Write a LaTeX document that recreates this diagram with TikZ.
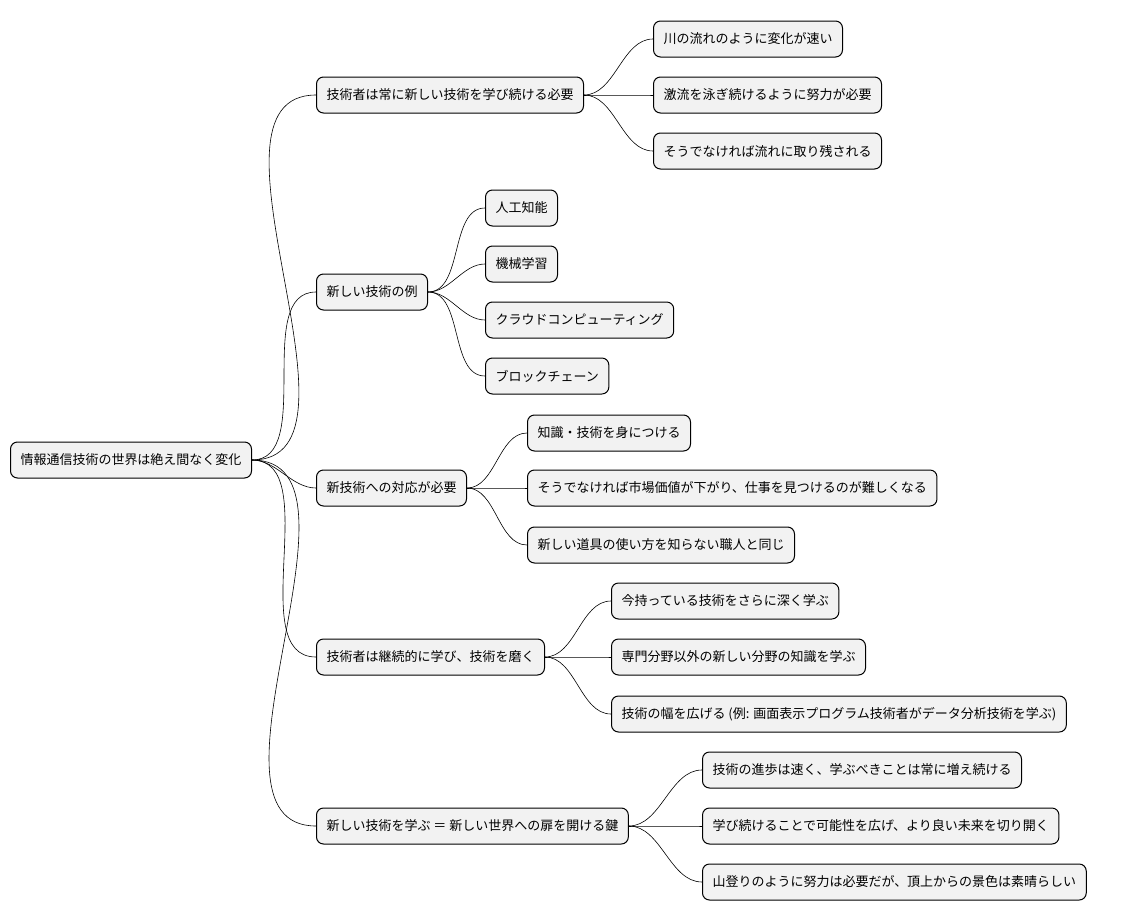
\documentclass[tikz,border=0pt]{standalone}
\usepackage{fontspec}
\setmainfont{Noto Sans CJK JP}
\begin{document}
\begin{tikzpicture}[x=1pt,y=-1pt,
		topic/.style={
			draw,
			line width=1pt,
			fill=gray!10,
			rounded corners=7pt,
			anchor=west,
			minimum height=36pt,
			inner xsep=10pt,
			font=\fontsize{13}{15}\selectfont},
		link/.style={
			line width=0.6pt,
			out=0,
			in=180,
			looseness=0.9}]

	\useasboundingbox (0,0) rectangle (1125,921);

	\node (root) [topic] at (10,460) {情報通信技術の世界は絶え間なく変化};

	\node (need) [topic] at (316,95) {技術者は常に新しい技術を学び続ける必要};
	\node (ex) [topic] at (316,292) {新しい技術の例};
	\node (resp) [topic] at (316,488) {新技術への対応が必要};
	\node (cont) [topic] at (316,657) {技術者は継続的に学び、技術を磨く};
	\node (key) [topic] at (316,826) {新しい技術を学ぶ ＝ 新しい世界への扉を開ける鍵};

	\node (need1) [topic] at (653,39) {川の流れのように変化が速い};
	\node (need2) [topic] at (653,95) {激流を泳ぎ続けるように努力が必要};
	\node (need3) [topic] at (653,151) {そうでなければ流れに取り残される};

	\node (ex1) [topic] at (485,208) {人工知能};
	\node (ex2) [topic] at (485,264) {機械学習};
	\node (ex3) [topic] at (485,320) {クラウドコンピューティング};
	\node (ex4) [topic] at (485,376) {ブロックチェーン};

	\node (resp1) [topic] at (527,433) {知識・技術を身につける};
	\node (resp2) [topic] at (527,488) {そうでなければ市場価値が下がり、仕事を見つけるのが難しくなる};
	\node (resp3) [topic] at (527,545) {新しい道具の使い方を知らない職人と同じ};

	\node (cont1) [topic] at (611,601) {今持っている技術をさらに深く学ぶ};
	\node (cont2) [topic] at (611,657) {専門分野以外の新しい分野の知識を学ぶ};
	\node (cont3) [topic] at (611,714) {技術の幅を広げる (例: 画面表示プログラム技術者がデータ分析技術を学ぶ)};

	\node (key1) [topic] at (702,770) {技術の進歩は速く、学ぶべきことは常に増え続ける};
	\node (key2) [topic] at (702,826) {学び続けることで可能性を広げ、より良い未来を切り開く};
	\node (key3) [topic] at (702,882) {山登りのように努力は必要だが、頂上からの景色は素晴らしい};

	\foreach \c in {need,ex,resp,cont,key}
		\draw [link] (root.east) to (\c.west);
	\foreach \c in {need1,need2,need3}
		\draw [link] (need.east) to (\c.west);
	\foreach \c in {ex1,ex2,ex3,ex4}
		\draw [link] (ex.east) to (\c.west);
	\foreach \c in {resp1,resp2,resp3}
		\draw [link] (resp.east) to (\c.west);
	\foreach \c in {cont1,cont2,cont3}
		\draw [link] (cont.east) to (\c.west);
	\foreach \c in {key1,key2,key3}
		\draw [link] (key.east) to (\c.west);
\end{tikzpicture}
\end{document}
